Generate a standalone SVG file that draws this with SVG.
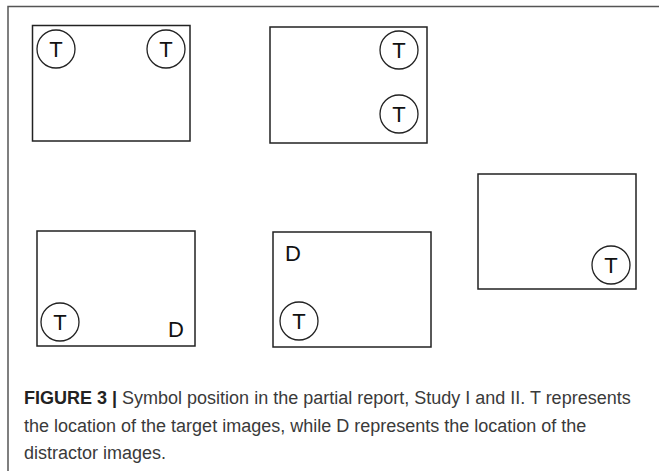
<svg xmlns="http://www.w3.org/2000/svg" width="659" height="471" viewBox="0 0 659 471">
<style>
.box{fill:#fff;stroke:#222;stroke-width:1.5}
.c{fill:none;stroke:#222;stroke-width:1.3}
.sym{font-family:"Liberation Sans",Arial,sans-serif;font-size:22px;fill:#111;text-anchor:middle}
.cap{font-family:"Liberation Sans",Arial,sans-serif;font-size:18px;fill:#3a3a3a}
</style>
<rect width="659" height="471" fill="#fff"/>
<path d="M8 471 V6.5 H659" fill="none" stroke="#555" stroke-width="1.5"/>
<g id="panel1">
<rect class="box" x="32.5" y="25.5" width="157.5" height="115.5"/>
<circle class="c" cx="56" cy="49" r="19"/><text class="sym" x="56" y="57">T</text>
<circle class="c" cx="166" cy="49" r="19"/><text class="sym" x="166" y="57">T</text>
</g>
<g id="panel2">
<rect class="box" x="270" y="27" width="157" height="116"/>
<circle class="c" cx="399" cy="50" r="19"/><text class="sym" x="399" y="58">T</text>
<circle class="c" cx="399" cy="114" r="19"/><text class="sym" x="399" y="122">T</text>
</g>
<g id="panel3">
<rect class="box" x="37" y="231" width="158" height="115"/>
<circle class="c" cx="60" cy="322" r="19"/><text class="sym" x="60" y="330">T</text>
<text class="sym" x="176" y="337">D</text>
</g>
<g id="panel4">
<rect class="box" x="273" y="232" width="158" height="115"/>
<text class="sym" x="293" y="261">D</text>
<circle class="c" cx="299" cy="321" r="19"/><text class="sym" x="299" y="329">T</text>
</g>
<g id="panel5">
<rect class="box" x="478" y="174" width="158" height="115"/>
<circle class="c" cx="611" cy="265" r="19"/><text class="sym" x="611" y="273">T</text>
</g>
<g id="caption">
<text class="cap" x="24" y="404"><tspan font-weight="bold" fill="#222">FIGURE 3 |</tspan> Symbol position in the partial report, Study I and II. T represents</text>
<text class="cap" x="24" y="432">the location of the target images, while D represents the location of the</text>
<text class="cap" x="24" y="459">distractor images.</text>
</g>
</svg>
